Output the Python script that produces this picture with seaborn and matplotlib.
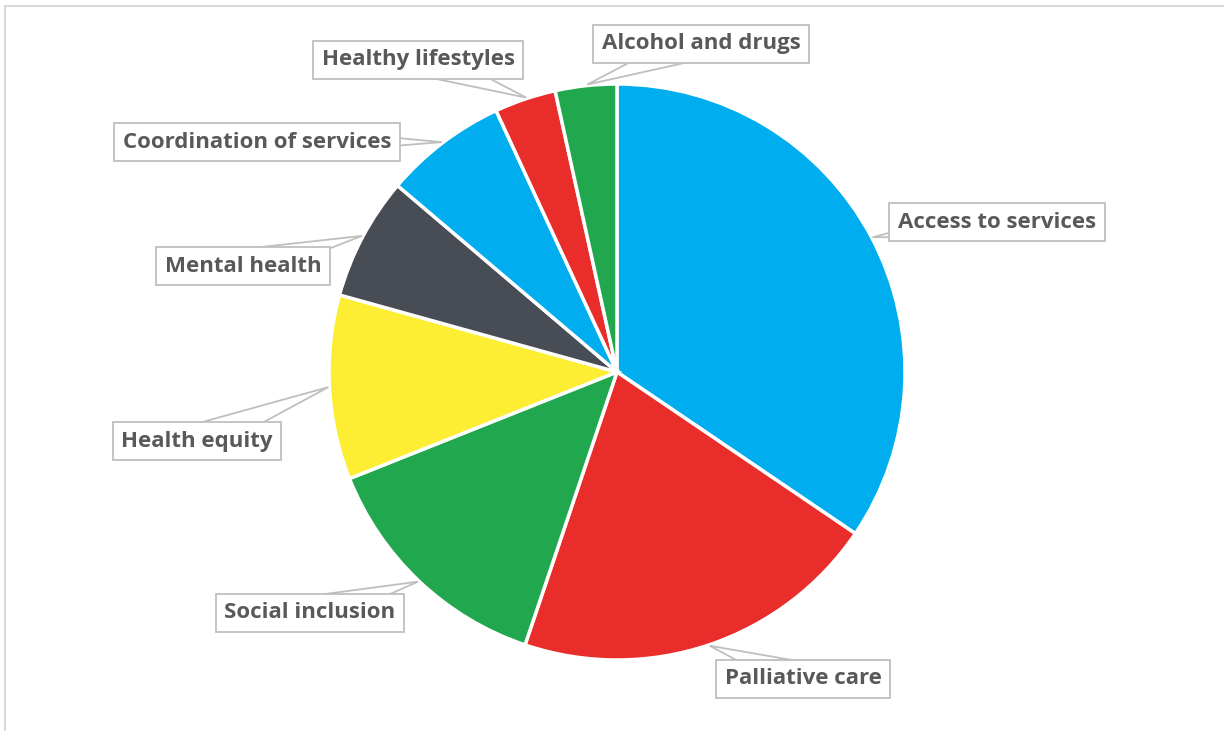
import matplotlib
matplotlib.use("Agg")
import matplotlib.pyplot as plt
import seaborn as sns
import numpy as np
from matplotlib.patches import Rectangle, Polygon

# survey topics, clockwise from 12 o'clock
topics = ["Access to services", "Palliative care", "Social inclusion", "Health equity",
          "Mental health", "Coordination of services", "Healthy lifestyles", "Alcohol and drugs"]
counts = [10, 6, 4, 3, 2, 2, 1, 1]
slice_colors = ["#00AEEF", "#E92D2B", "#21A84F", "#FDEE33",
                "#474C55", "#00AEEF", "#E92D2B", "#21A84F"]

# callout box centres (pixels from top-left) and the rim angle each pointer hits
label_pos = [(997, 221), (803, 678), (310, 612), (197, 440),
             (243, 265), (257, 141), (418, 59), (701, 43)]
pointer_deg = [27.8, -71.3, 226.5, 183.0, 151.9, 127.3, 108.3, 95.9]

W, H = 1224, 731
sns.set_theme(style="white")
plt.rcParams["font.family"] = ["Open Sans", "DejaVu Sans"]
palette = sns.color_palette(slice_colors)

fig = plt.figure(figsize=(W / 100, H / 100), dpi=100)
ax = fig.add_axes([0, 0, 1, 1])

cx, cy, r = 617, H - 372, 288
wedges, _ = ax.pie(counts, colors=palette, startangle=90, counterclock=False,
                   center=(cx, cy), radius=r, frame=True,
                   wedgeprops=dict(edgecolor="white", linewidth=2.5))
ax.set_xlim(0, W)
ax.set_ylim(0, H)
ax.set_aspect("equal")
ax.axis("off")

# outer chart frame (runs off the right and bottom edges)
ax.add_patch(Rectangle((5, -20), W + 50, H - 6 + 20, fill=False, ec="#D9D9D9", lw=1.5))

for name, (px, py), a in zip(topics, label_pos, pointer_deg):
    tx, ty = px, H - py
    ex = cx + (r + 1) * np.cos(np.radians(a))
    ey = cy + (r + 1) * np.sin(np.radians(a))
    # callout pointer: thin triangle from box centre to the rim, box drawn over it
    d = np.array([ex - tx, ey - ty])
    n = np.array([-d[1], d[0]]) / np.hypot(*d)
    base = 16
    tri = [(tx + n[0] * base, ty + n[1] * base), (tx - n[0] * base, ty - n[1] * base), (ex, ey)]
    ax.add_patch(Polygon(tri, closed=True, fc="white", ec="#BFBFBF", lw=1.3, zorder=4))
    ax.text(tx, ty - 1, name, ha="center", va="center", fontsize=16, fontweight="bold",
            color="#595959", zorder=5,
            bbox=dict(boxstyle="square,pad=0.38", fc="white", ec="#BFBFBF", lw=1.3))

fig.savefig("out.png", dpi=100)
